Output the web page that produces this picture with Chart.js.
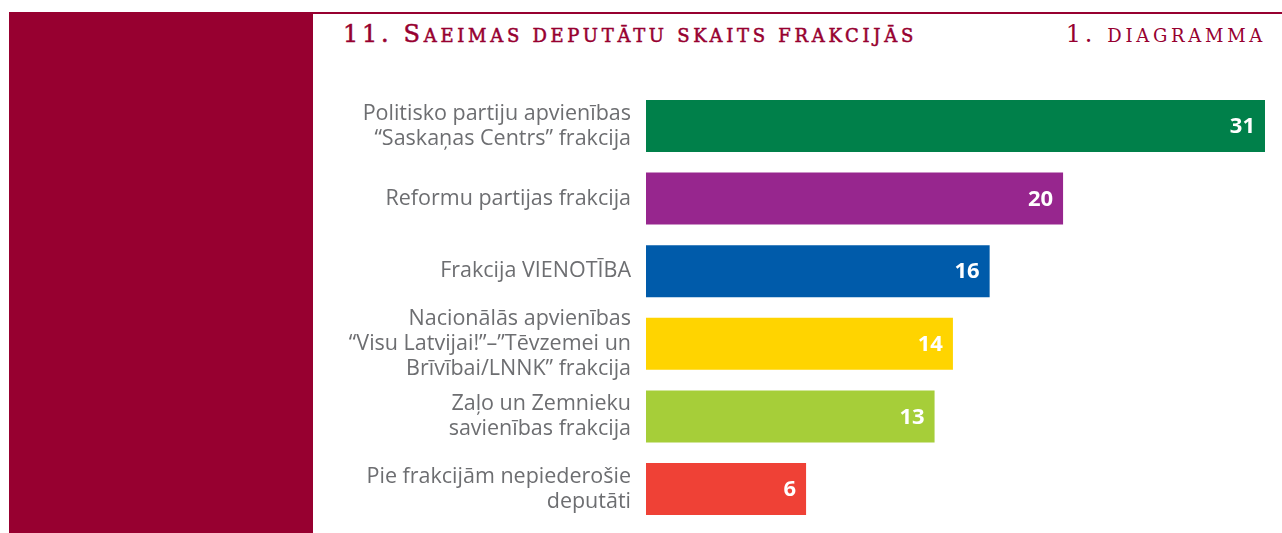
<!DOCTYPE html>
<html>
<head>
<meta charset="utf-8">
<script src="https://cdn.jsdelivr.net/npm/chart.js@4.4.1/dist/chart.umd.min.js"></script>
<style>
  html, body { margin: 0; padding: 0; background: #fff; }
  body { width: 1282px; height: 533px; position: relative; overflow: hidden; }
  #panel { position: absolute; left: 9px; top: 12px; width: 304px; height: 521px; background: #970030; }
  #topline { position: absolute; left: 313px; top: 12px; width: 969px; height: 2px; background: #970030; }
  .title { position: absolute; top: 21px; line-height: 26px; font-family: "DejaVu Serif", serif; color: #970030; font-size: 24px; white-space: nowrap; letter-spacing: 3.7px; }
  .title .sc { text-transform: uppercase; font-size: 18px; }
  #t1 { left: 343px; -webkit-text-stroke: 0.5px #970030; }
  #t2 { right: 16px; }
  #wrap { position: absolute; left: 320px; top: 80px; width: 962px; height: 453px; }
</style>
</head>
<body>
<div id="panel"></div>
<div id="topline"></div>
<div class="title" id="t1">11. S<span class="sc">aeimas deputātu skaits frakcijās</span></div>
<div class="title" id="t2">1. <span class="sc">diagramma</span></div>
<div id="wrap"><canvas id="c"></canvas></div>
<script>
const categories = [
  ["Politisko partiju apvienības", "“Saskaņas Centrs” frakcija"],
  "Reformu partijas frakcija",
  "Frakcija VIENOTĪBA",
  ["Nacionālās apvienības", "“Visu Latvijai!”–”Tēvzemei un", "Brīvībai/LNNK” frakcija"],
  ["Zaļo un Zemnieku", "savienības frakcija"],
  ["Pie frakcijām nepiederošie", "deputāti"]
];
const seats = [31, 20, 16, 14, 13, 6];
const barColors = ["#00804a", "#97268e", "#005baa", "#ffd400", "#a6ce39", "#ef4136"];
const axisMin = -2.72;
const axisMax = 31;

const valueLabels = {
  id: 'valueLabels',
  afterDatasetsDraw(chart) {
    const ctx = chart.ctx;
    const meta = chart.getDatasetMeta(0);
    ctx.save();
    ctx.fillStyle = '#ffffff';
    ctx.font = 'bold 22px "Open Sans", sans-serif';
    ctx.textAlign = 'right';
    ctx.textBaseline = 'middle';
    meta.data.forEach((bar, i) => {
      ctx.fillText(String(seats[i]), bar.x - 10, bar.y + 1);
    });
    ctx.restore();
  }
};

new Chart(document.getElementById('c'), {
  type: 'bar',
  data: {
    labels: categories,
    datasets: [{
      data: seats,
      backgroundColor: barColors,
      base: axisMin,
      barPercentage: 0.716,
      categoryPercentage: 1.0,
      borderWidth: 0
    }]
  },
  options: {
    indexAxis: 'y',
    responsive: true,
    maintainAspectRatio: false,
    animation: false,
    layout: { padding: { top: 9.7, bottom: 7.7, right: 17, left: 0 } },
    plugins: { legend: { display: false }, tooltip: { enabled: false } },
    scales: {
      x: { display: false, min: axisMin, max: axisMax },
      y: {
        grid: { display: false, drawTicks: false },
        border: { display: false },
        afterFit(scale) { scale.width = 326; scale.paddingTop = 0; scale.paddingBottom = 0; },
        ticks: {
          autoSkip: false,
          padding: 15,
          color: '#6d6e71',
          font: { family: '"Open Sans", sans-serif', size: 21.5, lineHeight: 1.16 }
        }
      }
    }
  },
  plugins: [valueLabels]
});
</script>
</body>
</html>
